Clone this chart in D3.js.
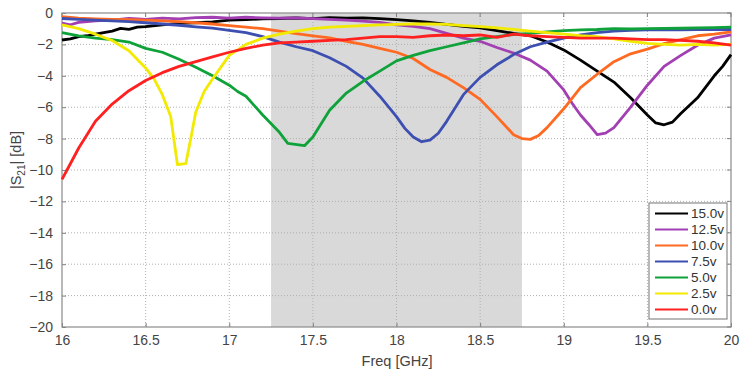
<!DOCTYPE html>
<html><head><meta charset="utf-8">
<script src="https://cdn.jsdelivr.net/npm/d3@7"></script>
<style>body{margin:0;background:#fff;} svg{display:block;font-family:"Liberation Sans",Arial,sans-serif;}</style>
</head><body><svg id="c" width="743" height="372"></svg>
<script>
const xTicks = [16,16.5,17,17.5,18,18.5,19,19.5,20];
const yTicks = [0,-2,-4,-6,-8,-10,-12,-14,-16,-18,-20];
const band = [17.25, 18.75];
const seriesNames = ["15.0v","12.5v","10.0v","7.5v","5.0v","2.5v","0.0v"];
const seriesColors = ["#000000","#a23fb3","#ff6a22","#3d4fb0","#10a23a","#f2ea00","#ff2020"];

const v15 = [[16.0,-1.72],[16.05,-1.65],[16.1,-1.5],[16.15,-1.45],[16.2,-1.35],[16.25,-1.25],[16.3,-1.15],[16.35,-0.98],[16.4,-1.04],[16.45,-0.9],[16.5,-0.87],[16.6,-0.76],[16.7,-0.66],[16.8,-0.62],[16.9,-0.56],[17.0,-0.45],[17.1,-0.42],[17.2,-0.38],[17.3,-0.35],[17.4,-0.32],[17.5,-0.36],[17.6,-0.3],[17.7,-0.33],[17.8,-0.31],[17.9,-0.36],[18.0,-0.42],[18.1,-0.5],[18.2,-0.6],[18.3,-0.72],[18.4,-0.85],[18.5,-0.95],[18.6,-1.12],[18.7,-1.3],[18.8,-1.45],[18.9,-1.85],[19.0,-2.35],[19.1,-3.0],[19.2,-3.7],[19.3,-4.4],[19.4,-5.4],[19.5,-6.5],[19.55,-7.0],[19.6,-7.12],[19.65,-6.95],[19.7,-6.4],[19.8,-5.4],[19.9,-4.0],[19.95,-3.4],[20.0,-2.65]];
const v125 = [[16.0,-0.65],[16.05,-0.75],[16.1,-0.6],[16.2,-0.5],[16.3,-0.45],[16.4,-0.35],[16.5,-0.4],[16.6,-0.33],[16.7,-0.37],[16.8,-0.3],[16.9,-0.27],[17.0,-0.33],[17.1,-0.27],[17.2,-0.31],[17.3,-0.33],[17.4,-0.32],[17.5,-0.36],[17.6,-0.4],[17.7,-0.45],[17.8,-0.52],[17.9,-0.6],[18.0,-0.75],[18.1,-0.85],[18.2,-1.0],[18.3,-1.3],[18.4,-1.6],[18.5,-1.8],[18.6,-2.2],[18.7,-2.55],[18.8,-3.0],[18.9,-3.7],[19.0,-4.9],[19.05,-5.75],[19.1,-6.5],[19.15,-7.1],[19.2,-7.75],[19.25,-7.65],[19.3,-7.3],[19.4,-6.0],[19.5,-4.6],[19.6,-3.4],[19.7,-2.7],[19.8,-2.05],[19.9,-1.6],[20.0,-1.4]];
const v10 = [[16.0,-0.24],[16.1,-0.32],[16.2,-0.37],[16.3,-0.4],[16.4,-0.42],[16.5,-0.45],[16.6,-0.5],[16.7,-0.55],[16.8,-0.62],[16.9,-0.7],[17.0,-0.8],[17.1,-0.9],[17.2,-1.0],[17.3,-1.15],[17.4,-1.32],[17.5,-1.45],[17.6,-1.58],[17.7,-1.8],[17.8,-2.0],[17.9,-2.25],[18.0,-2.5],[18.1,-2.9],[18.2,-3.6],[18.3,-4.1],[18.4,-4.75],[18.5,-5.5],[18.6,-6.6],[18.7,-7.75],[18.75,-8.0],[18.8,-8.05],[18.85,-7.8],[18.9,-7.3],[19.0,-6.1],[19.1,-4.75],[19.2,-3.9],[19.3,-3.1],[19.4,-2.6],[19.5,-2.3],[19.6,-1.95],[19.7,-1.7],[19.8,-1.45],[19.9,-1.35],[20.0,-1.2]];
const v75 = [[16.0,-0.35],[16.1,-0.4],[16.2,-0.45],[16.3,-0.5],[16.4,-0.55],[16.5,-0.62],[16.6,-0.7],[16.7,-0.78],[16.8,-0.88],[16.9,-0.97],[17.0,-1.1],[17.1,-1.25],[17.2,-1.5],[17.3,-1.85],[17.4,-2.15],[17.5,-2.4],[17.6,-2.85],[17.7,-3.4],[17.8,-4.15],[17.9,-5.3],[18.0,-6.6],[18.05,-7.35],[18.1,-7.9],[18.15,-8.2],[18.2,-8.1],[18.25,-7.66],[18.3,-6.9],[18.4,-5.2],[18.5,-4.1],[18.6,-3.3],[18.7,-2.65],[18.8,-2.15],[18.9,-1.85],[19.0,-1.6],[19.1,-1.4],[19.2,-1.25],[19.3,-1.15],[19.4,-1.1],[19.5,-1.08],[19.6,-1.05],[19.7,-1.07],[19.8,-1.05],[19.9,-1.05],[20.0,-1.05]];
const v5 = [[16.0,-1.25],[16.1,-1.45],[16.2,-1.6],[16.3,-1.7],[16.4,-1.85],[16.5,-2.25],[16.6,-2.5],[16.7,-2.95],[16.8,-3.45],[16.9,-4.0],[17.0,-4.6],[17.05,-5.0],[17.1,-5.3],[17.2,-6.5],[17.3,-7.6],[17.35,-8.3],[17.45,-8.45],[17.5,-7.9],[17.6,-6.2],[17.7,-5.1],[17.8,-4.35],[17.9,-3.7],[18.0,-3.05],[18.1,-2.7],[18.2,-2.4],[18.3,-2.15],[18.4,-1.9],[18.5,-1.65],[18.6,-1.5],[18.7,-1.37],[18.8,-1.3],[18.9,-1.2],[19.0,-1.12],[19.1,-1.07],[19.2,-1.05],[19.3,-1.0],[19.4,-1.02],[19.5,-1.0],[19.6,-0.98],[19.7,-0.97],[19.8,-0.95],[19.9,-0.93],[20.0,-0.9]];
const v25 = [[16.0,-0.76],[16.1,-1.0],[16.2,-1.35],[16.3,-1.75],[16.4,-2.4],[16.5,-3.5],[16.55,-4.2],[16.6,-5.2],[16.65,-6.6],[16.69,-9.65],[16.74,-9.6],[16.77,-8.0],[16.8,-6.3],[16.85,-5.0],[16.9,-4.2],[17.0,-2.7],[17.1,-2.0],[17.2,-1.6],[17.3,-1.35],[17.4,-1.15],[17.5,-1.0],[17.6,-0.9],[17.7,-0.85],[17.8,-0.8],[17.9,-0.75],[18.0,-0.72],[18.1,-0.7],[18.2,-0.7],[18.3,-0.72],[18.4,-0.8],[18.5,-0.87],[18.6,-0.95],[18.7,-1.05],[18.8,-1.15],[18.9,-1.25],[19.0,-1.35],[19.1,-1.45],[19.2,-1.5],[19.3,-1.65],[19.4,-1.8],[19.5,-1.93],[19.6,-2.0],[19.7,-2.05],[19.8,-2.0],[19.9,-2.05],[20.0,-2.0]];
const v0 = [[16.0,-10.6],[16.05,-9.6],[16.1,-8.6],[16.2,-6.9],[16.3,-5.8],[16.4,-4.95],[16.5,-4.3],[16.6,-3.8],[16.7,-3.4],[16.8,-3.1],[16.9,-2.8],[17.0,-2.5],[17.1,-2.25],[17.2,-2.05],[17.3,-1.9],[17.4,-1.85],[17.5,-1.8],[17.6,-1.75],[17.7,-1.7],[17.8,-1.6],[17.9,-1.5],[18.0,-1.5],[18.1,-1.55],[18.2,-1.45],[18.3,-1.4],[18.4,-1.45],[18.5,-1.4],[18.6,-1.55],[18.7,-1.35],[18.8,-1.45],[18.9,-1.5],[19.0,-1.55],[19.1,-1.6],[19.2,-1.6],[19.3,-1.6],[19.4,-1.65],[19.5,-1.7],[19.6,-1.7],[19.7,-1.75],[19.8,-1.8],[19.9,-1.9],[20.0,-2.05]];
const seriesData = [v15, v125, v10, v75, v5, v25, v0];

const m = {l:62, r:731, t:13, b:327};
const svg = d3.select("#c");
const x = d3.scaleLinear().domain([16,20]).range([m.l, m.r]);
const y = d3.scaleLinear().domain([-20,0]).range([m.b, m.t]);

svg.append("rect").attr("x", x(band[0])).attr("y", m.t)
  .attr("width", x(band[1]) - x(band[0])).attr("height", m.b - m.t).attr("fill", "#d9d9d9");

const g = svg.append("g");
g.selectAll(".gx").data(xTicks.slice(1,-1)).join("line")
  .attr("x1", d=>x(d)).attr("x2", d=>x(d)).attr("y1", m.t).attr("y2", m.b)
  .attr("stroke", "#b0b0b0").attr("stroke-width", 1).attr("stroke-dasharray", "1,2");
g.selectAll(".gy").data(yTicks.slice(1,-1)).join("line")
  .attr("x1", m.l).attr("x2", m.r).attr("y1", d=>y(d)).attr("y2", d=>y(d))
  .attr("stroke", "#b0b0b0").attr("stroke-width", 1).attr("stroke-dasharray", "1,2");

const xAxis = d3.axisBottom(x).tickValues(xTicks).tickSize(-4).tickPadding(8).tickFormat(d=>d3.format("")(d));
const yAxis = d3.axisLeft(y).tickValues(yTicks).tickSize(-4).tickPadding(9).tickFormat(d=>d3.format("")(d));
const ax = svg.append("g").attr("transform", `translate(0,${m.b})`).call(xAxis);
const ay = svg.append("g").attr("transform", `translate(${m.l},0)`).call(yAxis);
[ax, ay].forEach(a => {
  a.select(".domain").remove();
  a.selectAll("line").attr("stroke", "#808080");
  a.selectAll("text").attr("fill", "#444").style("font-size", "14px");
});
svg.append("rect").attr("x", m.l).attr("y", m.t).attr("width", m.r - m.l).attr("height", m.b - m.t)
  .attr("fill", "none").attr("stroke", "#8a8a8a").attr("stroke-width", 1.2);
svg.append("g").selectAll("line").data(xTicks).join("line")
  .attr("x1", d=>x(d)).attr("x2", d=>x(d)).attr("y1", m.t).attr("y2", m.t+4).attr("stroke", "#808080");
svg.append("g").selectAll("line").data(yTicks).join("line")
  .attr("x1", m.r).attr("x2", m.r-4).attr("y1", d=>y(d)).attr("y2", d=>y(d)).attr("stroke", "#808080");

const line = d3.line().x(d=>x(d[0])).y(d=>y(d[1])).curve(d3.curveLinear);
svg.append("g").selectAll("path").data(seriesData).join("path")
  .attr("d", line).attr("fill", "none")
  .attr("stroke", (d,i)=>seriesColors[i]).attr("stroke-width", 2.8)
  .attr("stroke-linejoin", "round");

svg.append("text").attr("x", 397).attr("y", 366).attr("text-anchor", "middle")
  .attr("fill", "#444").style("font-size", "14.5px").text("Freq [GHz]");
const yt = svg.append("text").attr("transform", "translate(21,160) rotate(-90)")
  .attr("text-anchor", "middle").attr("fill", "#444").style("font-size", "14.5px");
yt.append("tspan").text("|S");
yt.append("tspan").attr("dy", 4).style("font-size", "10px").text("21");
yt.append("tspan").attr("dy", -4).text("| [dB]");

const lg = svg.append("g");
lg.append("rect").attr("x", 649).attr("y", 203).attr("width", 78).attr("height", 116)
  .attr("fill", "#fff").attr("stroke", "#8a8a8a").attr("stroke-width", 1.2);
const items = lg.selectAll("g").data(seriesNames).join("g")
  .attr("transform", (d,i)=>`translate(0,${213.5 + i*16})`);
items.append("line").attr("x1", 655).attr("x2", 688).attr("y1", 0).attr("y2", 0)
  .attr("stroke", (d,i)=>seriesColors[i]).attr("stroke-width", 2);
items.append("text").attr("x", 691).attr("y", 4.5).attr("fill", "#333")
  .style("font-size", "13.5px").text(d=>d);
</script>
</body></html>
